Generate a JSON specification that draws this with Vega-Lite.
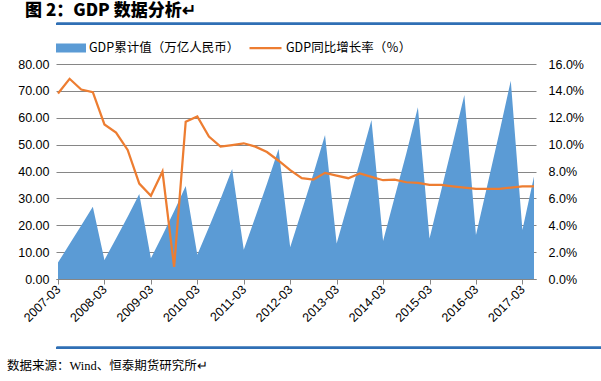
{
  "$schema": "https://vega.github.io/schema/vega-lite/v6.json",
  "padding": {"left": 2, "top": 2, "right": 0, "bottom": 0},
  "title": {
    "text": "图 2：GDP 数据分析↵",
    "anchor": "start",
    "dx": 23,
    "offset": 3,
    "font": "Noto Sans CJK SC",
    "fontSize": 17,
    "fontWeight": 900,
    "color": "#000000"
  },
  "columns": 1,
  "align": "none",
  "spacing": 16,
  "resolve": {
    "scale": {"x": "independent", "y": "independent", "fill": "independent", "stroke": "independent"},
    "axis": {"x": "independent", "y": "independent"},
    "legend": {"fill": "independent", "stroke": "independent"}
  },
  "concat": [
    {
      "width": 594,
      "height": 2,
      "data": {"values": [{"a": 0, "b": 1}]},
      "mark": {"type": "rect", "color": "#2F6FB5"},
      "encoding": {
        "x": {"field": "a", "type": "quantitative", "scale": {"domain": [0, 1]}, "axis": {"orient": "top", "title": null, "labels": false, "ticks": false, "grid": false, "domainColor": "#2F6FB5", "domainWidth": 2.5}},
        "x2": {"field": "b"},
        "y": {"field": "a", "type": "quantitative", "scale": {"domain": [0, 1]}, "axis": null},
        "y2": {"field": "b"}
      }
    },
    {
      "width": 480,
      "height": 215,
      "data": {
        "values": [
          {"date": "2007-03", "gdp": 6.1, "growth": 13.8},
          {"date": "2007-06", "gdp": 13.0, "growth": 14.9},
          {"date": "2007-09", "gdp": 19.9, "growth": 14.1},
          {"date": "2007-12", "gdp": 26.9, "growth": 13.9},
          {"date": "2008-03", "gdp": 7.1, "growth": 11.5},
          {"date": "2008-06", "gdp": 15.1, "growth": 10.9},
          {"date": "2008-09", "gdp": 23.2, "growth": 9.6},
          {"date": "2008-12", "gdp": 31.6, "growth": 7.1},
          {"date": "2009-03", "gdp": 7.7, "growth": 6.2},
          {"date": "2009-06", "gdp": 16.3, "growth": 8.0},
          {"date": "2009-09", "gdp": 25.2, "growth": 0.9},
          {"date": "2009-12", "gdp": 34.6, "growth": 11.7},
          {"date": "2010-03", "gdp": 9.0, "growth": 12.1},
          {"date": "2010-06", "gdp": 19.3, "growth": 10.6},
          {"date": "2010-09", "gdp": 29.8, "growth": 9.85},
          {"date": "2010-12", "gdp": 40.9, "growth": 9.97},
          {"date": "2011-03", "gdp": 10.9, "growth": 10.1},
          {"date": "2011-06", "gdp": 23.1, "growth": 9.85},
          {"date": "2011-09", "gdp": 35.4, "growth": 9.45},
          {"date": "2011-12", "gdp": 48.4, "growth": 8.8},
          {"date": "2012-03", "gdp": 11.8, "growth": 8.1},
          {"date": "2012-06", "gdp": 25.5, "growth": 7.5},
          {"date": "2012-09", "gdp": 39.2, "growth": 7.4},
          {"date": "2012-12", "gdp": 53.6, "growth": 7.9},
          {"date": "2013-03", "gdp": 13.2, "growth": 7.7},
          {"date": "2013-06", "gdp": 28.4, "growth": 7.5},
          {"date": "2013-09", "gdp": 43.5, "growth": 7.85},
          {"date": "2013-12", "gdp": 59.2, "growth": 7.6},
          {"date": "2014-03", "gdp": 14.1, "growth": 7.35},
          {"date": "2014-06", "gdp": 30.5, "growth": 7.4},
          {"date": "2014-09", "gdp": 46.7, "growth": 7.2},
          {"date": "2014-12", "gdp": 63.9, "growth": 7.15},
          {"date": "2015-03", "gdp": 15.1, "growth": 7.0},
          {"date": "2015-06", "gdp": 32.8, "growth": 7.0},
          {"date": "2015-09", "gdp": 50.4, "growth": 6.9},
          {"date": "2015-12", "gdp": 68.5, "growth": 6.8},
          {"date": "2016-03", "gdp": 16.4, "growth": 6.7},
          {"date": "2016-06", "gdp": 35.3, "growth": 6.7},
          {"date": "2016-09", "gdp": 54.2, "growth": 6.7},
          {"date": "2016-12", "gdp": 73.8, "growth": 6.8},
          {"date": "2017-03", "gdp": 18.2, "growth": 6.9},
          {"date": "2017-06", "gdp": 38.1, "growth": 6.9}
        ]
      },
      "layer": [
        {
          "mark": {"type": "area", "interpolate": "linear"},
          "encoding": {
            "x": {
              "field": "date",
              "type": "ordinal",
              "scale": {"type": "point", "padding": 0.172},
              "axis": {
                "title": null,
                "values": ["2007-03", "2008-03", "2009-03", "2010-03", "2011-03", "2012-03", "2013-03", "2014-03", "2015-03", "2016-03", "2017-03"],
                "labelAngle": -45,
                "labelAlign": "right",
                "labelBaseline": "middle",
                "labelPadding": 3,
                "labelFont": "Liberation Sans",
                "labelFontSize": 12.5,
                "labelColor": "#000000",
                "domainColor": "#868686",
                "tickColor": "#868686",
                "tickSize": 5,
                "grid": false,
                "minExtent": 52,
                "maxExtent": 52
              }
            },
            "y": {
              "field": "gdp",
              "type": "quantitative",
              "scale": {"domain": [0, 80]},
              "axis": {
                "title": null,
                "values": [0, 10, 20, 30, 40, 50, 60, 70, 80],
                "format": ".2f",
                "domain": false,
                "ticks": false,
                "labelPadding": 7,
                "labelFont": "Liberation Sans",
                "labelFontSize": 12.5,
                "labelColor": "#000000",
                "grid": true,
                "gridColor": "#868686",
                "gridWidth": 1,
                "minExtent": 54,
                "maxExtent": 54
              }
            },
            "fill": {
              "datum": "GDP累计值（万亿人民币）",
              "scale": {"range": ["#5B9BD5"]},
              "legend": {
                "orient": "top",
                "title": null,
                "symbolType": "M-1,-0.3H1V0.3H-1Z",
                "symbolSize": 900,
                "symbolStrokeWidth": 0,
                "clipHeight": 14,
                "labelFont": "Noto Sans CJK SC",
                "labelFontSize": 12.5,
                "labelColor": "#000000",
                "labelOffset": 3,
                "offset": 9
              }
            }
          }
        },
        {
          "mark": {"type": "line", "strokeWidth": 2.25, "interpolate": "linear"},
          "encoding": {
            "x": {"field": "date", "type": "ordinal"},
            "y": {
              "field": "growth",
              "type": "quantitative",
              "scale": {"domain": [0, 16]},
              "axis": {
                "orient": "right",
                "title": null,
                "values": [0, 2, 4, 6, 8, 10, 12, 14, 16],
                "labelExpr": "format(datum.value, '.1f') + '%'",
                "domain": false,
                "ticks": false,
                "grid": false,
                "labelPadding": 12,
                "labelFont": "Liberation Sans",
                "labelFontSize": 12.5,
                "labelColor": "#000000"
              }
            },
            "stroke": {
              "datum": "GDP同比增长率（％）",
              "scale": {"range": ["#ED7D31"]},
              "legend": {
                "orient": "top",
                "title": null,
                "symbolType": "stroke",
                "symbolSize": 1024,
                "symbolStrokeWidth": 2.25,
                "clipHeight": 14,
                "labelFont": "Noto Sans CJK SC",
                "labelFontSize": 12.5,
                "labelColor": "#000000",
                "labelOffset": 3,
                "offset": 9
              }
            }
          }
        }
      ],
      "resolve": {"scale": {"y": "independent"}}
    },
    {
      "width": 594,
      "height": 2,
      "data": {"values": [{"a": 0, "b": 1}]},
      "mark": {"type": "rect", "color": "#2F6FB5"},
      "encoding": {
        "x": {"field": "a", "type": "quantitative", "scale": {"domain": [0, 1]}, "axis": {"orient": "top", "title": null, "labels": false, "ticks": false, "grid": false, "domainColor": "#2F6FB5", "domainWidth": 2.5}},
        "x2": {"field": "b"},
        "y": {"field": "a", "type": "quantitative", "scale": {"domain": [0, 1]}, "axis": null},
        "y2": {"field": "b"}
      },
      "title": {
        "text": "数据来源：Wind、恒泰期货研究所↵",
        "orient": "bottom",
        "anchor": "start",
        "dx": -49,
        "offset": 11,
        "font": "Liberation Serif, Noto Sans CJK SC",
        "fontSize": 12.5,
        "fontWeight": "normal",
        "color": "#000000"
      }
    }
  ],
  "config": {
    "view": {"stroke": null},
    "background": "#ffffff"
  }
}
